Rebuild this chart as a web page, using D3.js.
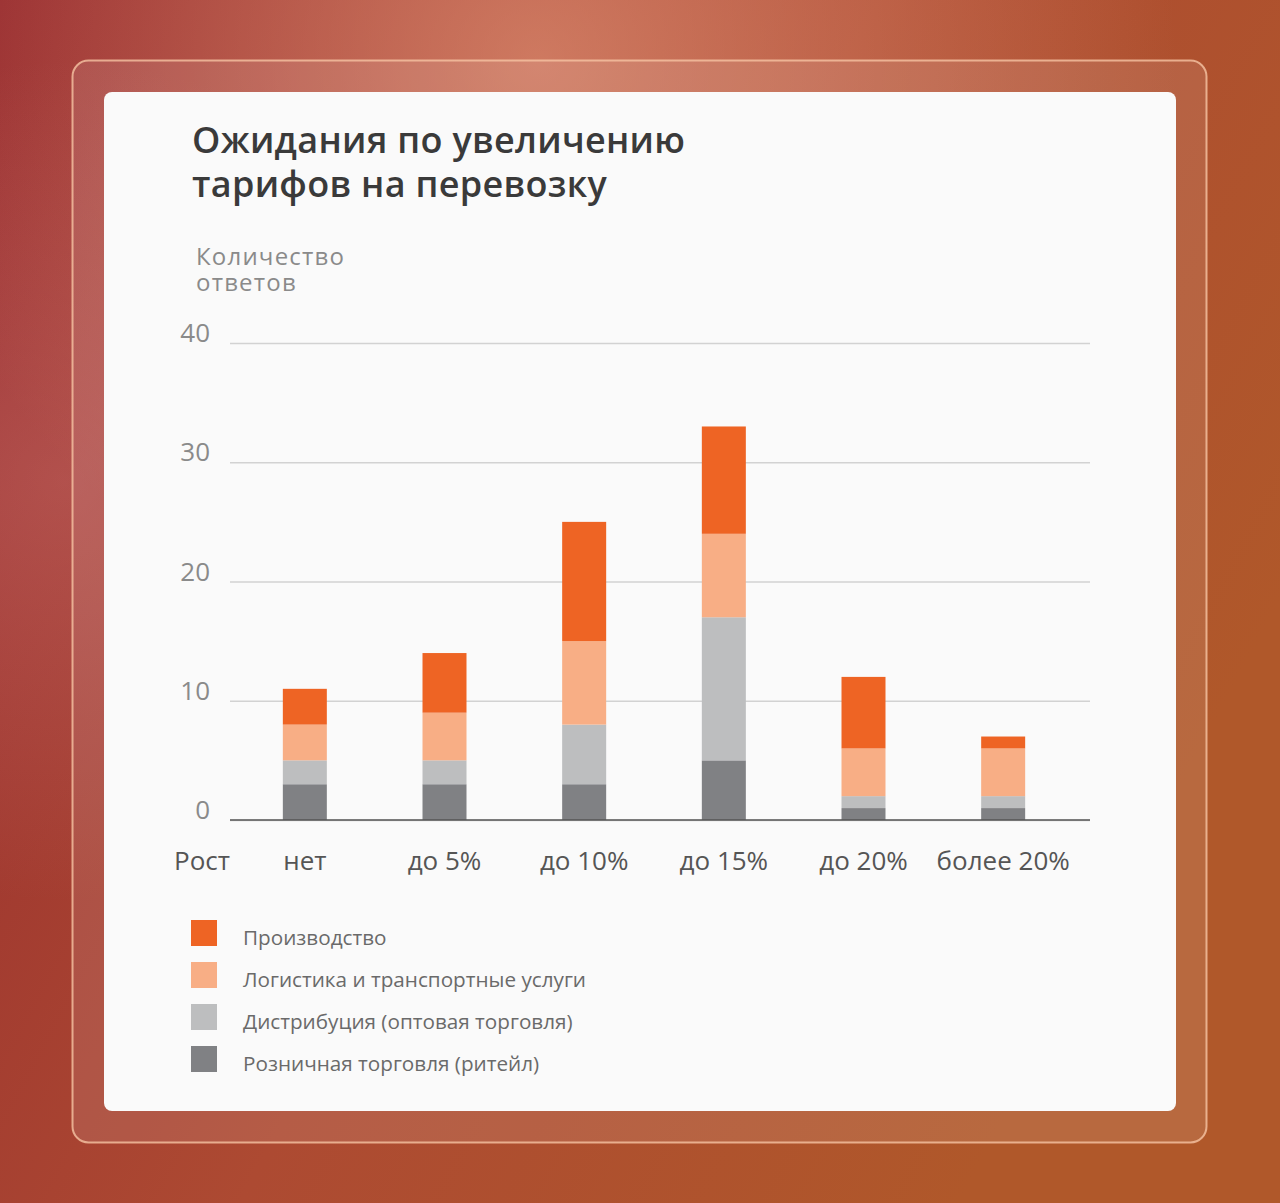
<!DOCTYPE html>
<html>
<head>
<meta charset="utf-8">
<script src="https://cdn.jsdelivr.net/npm/d3@7"></script>
<style>
  body { margin: 0; overflow: hidden; }
  svg { display: block; font-family: "Open Sans", "Noto Sans", sans-serif; }
</style>
</head>
<body>
<svg class="canvas" width="1280" height="1203"></svg>
<script>
const categories = ["нет", "до 5%", "до 10%", "до 15%", "до 20%", "более 20%"];
const seriesNames = [
  "Розничная торговля (ритейл)",
  "Дистрибуция (оптовая торговля)",
  "Логистика и транспортные услуги",
  "Производство",
];
const retail = [3, 3, 3, 5, 1, 1];
const distribution = [2, 2, 5, 12, 1, 1];
const logistics = [3, 4, 7, 7, 4, 4];
const production = [3, 5, 10, 9, 6, 1];
const yTicks = [0, 10, 20, 30, 40];
const colors = ["#808184", "#bdbebf", "#f8ae85", "#ee6424"];

const svg = d3.select(".canvas");

// background
const defs = svg.append("defs");
const bg = defs.append("linearGradient").attr("id", "bg")
  .attr("x1", 0).attr("y1", 0).attr("x2", 1).attr("y2", 0.5);
bg.append("stop").attr("offset", "0%").attr("stop-color", "#962a2e");
bg.append("stop").attr("offset", "55%").attr("stop-color", "#ad4a32");
bg.append("stop").attr("offset", "100%").attr("stop-color", "#b0582a");
const glow = defs.append("radialGradient").attr("id", "glow")
  .attr("cx", 0.42).attr("cy", 0.05).attr("r", 0.5);
glow.append("stop").attr("offset", "0%").attr("stop-color", "#eaa080").attr("stop-opacity", 0.6);
glow.append("stop").attr("offset", "100%").attr("stop-color", "#eaa080").attr("stop-opacity", 0);
const glow2 = defs.append("radialGradient").attr("id", "glow2")
  .attr("cx", 0.05).attr("cy", 0.4).attr("r", 0.35);
glow2.append("stop").attr("offset", "0%").attr("stop-color", "#e09090").attr("stop-opacity", 0.3);
glow2.append("stop").attr("offset", "100%").attr("stop-color", "#e09090").attr("stop-opacity", 0);

svg.append("rect").attr("width", 1280).attr("height", 1203).attr("fill", "url(#bg)");
svg.append("rect").attr("width", 1280).attr("height", 1203).attr("fill", "url(#glow)");
svg.append("rect").attr("width", 1280).attr("height", 1203).attr("fill", "url(#glow2)");

// frame + card
svg.append("rect")
  .attr("x", 72.5).attr("y", 60.5).attr("width", 1134).attr("height", 1082)
  .attr("rx", 16)
  .attr("fill", "#ffffff").attr("fill-opacity", 0.1)
  .attr("stroke", "#f6c4a4").attr("stroke-opacity", 0.8).attr("stroke-width", 2);
svg.append("rect")
  .attr("x", 104).attr("y", 92).attr("width", 1072).attr("height", 1019)
  .attr("rx", 8).attr("fill", "#fafafa");

// title
svg.selectAll("text.title")
  .data(["Ожидания по увеличению", "тарифов на перевозку"])
  .enter()
  .append("text")
  .attr("class", "title")
  .attr("x", 192)
  .attr("y", (d, i) => 153 + i * 44)
  .attr("fill", "#3a3a3a")
  .style("font-size", "36px")
  .style("font-weight", 600)
  .style("letter-spacing", "0.3px")
  .text((d) => d);

svg.selectAll("text.ylabel")
  .data(["Количество", "ответов"])
  .enter()
  .append("text")
  .attr("class", "ylabel")
  .attr("x", 196)
  .attr("y", (d, i) => 265 + i * 26)
  .attr("fill", "#8a8a8a")
  .style("font-size", "24px")
  .style("letter-spacing", "1.2px")
  .text((d) => d);

// chart
const margin = { left: 230, right: 1090, top: 343, bottom: 820 };
const y = d3.scaleLinear().domain([0, 40]).range([margin.bottom, margin.top]);
const x = d3.scaleBand()
  .domain(categories)
  .range([213, 1095])
  .paddingInner(0.685)
  .paddingOuter(0.5);

const graph = svg.append("g");

const yAxis = d3.axisLeft(y)
  .tickValues(yTicks)
  .tickSize(-(margin.right - margin.left))
  .tickPadding(20);

const yAxisGroup = graph.append("g")
  .attr("transform", `translate(${margin.left},0)`)
  .call(yAxis);
yAxisGroup.select(".domain").remove();
yAxisGroup.selectAll(".tick line")
  .attr("stroke", "#d2d2d2").attr("stroke-width", 1.5);
yAxisGroup.selectAll(".tick text")
  .attr("fill", "#8a8a8a")
  .attr("dy", "-0.05em")
  .style("font-size", "26px")
  .style("font-family", "'Open Sans', sans-serif");

// stacked bars
const table = categories.map((c, i) => ({
  cat: c,
  [seriesNames[0]]: retail[i],
  [seriesNames[1]]: distribution[i],
  [seriesNames[2]]: logistics[i],
  [seriesNames[3]]: production[i],
}));
const stack = d3.stack().keys(seriesNames)(table);

graph.selectAll("g.layer")
  .data(stack)
  .enter()
  .append("g")
  .attr("class", "layer")
  .attr("fill", (d, i) => colors[i])
  .selectAll("rect")
  .data((d) => d)
  .enter()
  .append("rect")
  .attr("x", (d) => x(d.data.cat))
  .attr("width", x.bandwidth())
  .attr("y", (d) => y(d[1]))
  .attr("height", (d) => y(d[0]) - y(d[1]));

// zero line
graph.append("line")
  .attr("x1", margin.left).attr("x2", margin.right)
  .attr("y1", y(0)).attr("y2", y(0))
  .attr("stroke", "#555").attr("stroke-width", 1.5);

// x labels
const xAxis = d3.axisBottom(x).tickSize(0).tickPadding(0);
const xAxisGroup = graph.append("g")
  .attr("transform", `translate(0,${y(0) + 50})`)
  .call(xAxis);
xAxisGroup.select(".domain").remove();
xAxisGroup.selectAll("text")
  .attr("dy", 0)
  .attr("fill", "#555")
  .style("font-size", "26px")
  .style("font-family", "'Open Sans', sans-serif");

svg.append("text")
  .attr("x", 202).attr("y", y(0) + 50)
  .attr("text-anchor", "middle")
  .attr("fill", "#555")
  .style("font-size", "26px")
  .text("Рост");

// legend
const legendOrder = [3, 2, 1, 0];
const legend = svg.append("g").attr("transform", "translate(191,920)");
const items = legend.selectAll("g")
  .data(legendOrder)
  .enter()
  .append("g")
  .attr("transform", (d, i) => `translate(0,${i * 42})`);
items.append("rect")
  .attr("width", 26).attr("height", 26)
  .attr("fill", (d) => colors[d]);
items.append("text")
  .attr("x", 52).attr("y", 25)
  .attr("fill", "#6a6a6a")
  .style("font-size", "20.7px")
  .text((d) => seriesNames[d]);
</script>
</body>
</html>
